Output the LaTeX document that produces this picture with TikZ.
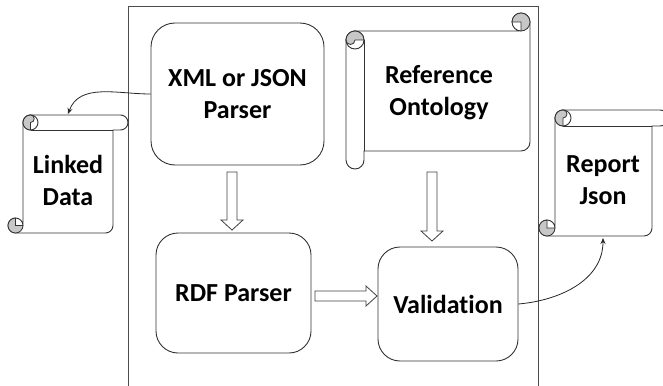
\documentclass[tikz,border=0pt]{standalone}
\usepackage{fontspec}
\setmainfont{Carlito}[Ligatures=NoCommon]
\usetikzlibrary{arrows.meta}
\tikzset{
  boxline/.style={draw=black!80, line width=0.9pt},
  procbox/.style={boxline, fill=white, rounded corners=24pt, align=center,
    font=\bfseries\fontsize{26}{32}\selectfont, inner sep=0pt},
  scrolltext/.style={align=center, font=\bfseries\fontsize{26}{32}\selectfont, inner sep=0pt},
  frameline/.style={draw=black!70, line width=0.9pt},
  blockarrow/.style={draw=black!75, line width=0.8pt, fill=white, line join=miter},
  conn/.style={draw=black!85, line width=0.8pt, -{Stealth[length=6pt,width=5pt]}},
  curlfill/.style={draw=black!80, line width=0.8pt, fill=black!22}
}
% vertical scroll: #1=L, #2=T, #3=R, #4=B, #5=c (roll diameter)
\newcommand\myvscroll[5]{%
  \pgfmathsetmacro\sh{#5/2}%
  \pgfmathsetmacro\sA{#1+#5}%
  \pgfmathsetmacro\sAh{#1+#5+#5/2}%
  \pgfmathsetmacro\sLh{#1+#5/2}%
  \pgfmathsetmacro\sRh{#3-#5/2}%
  \pgfmathsetmacro\sRc{#3-#5}%
  \pgfmathsetmacro\sTh{#2+#5/2}%
  \pgfmathsetmacro\sTc{#2+#5}%
  \pgfmathsetmacro\sBh{#4-#5/2}%
  \pgfmathsetmacro\sBc{#4-#5}%
  \pgfmathsetmacro\sq{#5/4}%
  \path[boxline, fill=white] (\sAh,#2) -- (\sRh,#2)
     arc[start angle=-90,end angle=90,radius=\sh] -- (\sRc,\sTc) -- (\sRc,\sBh)
     arc[start angle=0,end angle=90,radius=\sh] -- (\sLh,#4)
     arc[start angle=90,end angle=360,radius=\sh] -- (\sA,\sTh)
     arc[start angle=180,end angle=270,radius=\sh] -- cycle;
  \draw[boxline] (\sAh,\sTc) -- (\sRc,\sTc);
  \draw[boxline, fill=white] (\sAh,\sTh) circle[radius=\sh];
  \path[curlfill] (\sAh,\sTc) arc[start angle=90,end angle=270,radius=\sh]
     arc[start angle=-90,end angle=90,radius=\sq] -- cycle;
  \path[curlfill] (\sLh,\sBh) -- (\sA,\sBh) arc[start angle=0,end angle=270,radius=\sh] -- cycle;
}
\begin{document}
\begin{tikzpicture}[x=1pt,y=-1pt]
\useasboundingbox (0,0) rectangle (663,385);
\clip (0,0) rectangle (663,385);
% frame
\draw[frameline] (128,395) -- (128,6) -- (538,6) -- (538,395);

% scrolls
\myvscroll{8}{115}{128}{233}{15}
\begin{scope}[x={(0pt,-1pt)}, y={(1pt,0pt)}]
  \myvscroll{13}{346}{169}{530}{18}
\end{scope}
\myvscroll{539}{110}{668}{236}{16}

\node[scrolltext] (linked) at (68,180) {Linked\\Data};
\node[scrolltext] (refonto) at (439,93) {Reference\\Ontology};
\node[scrolltext] (report) at (603,180) {Report\\Json};

% process boxes
\node[procbox, minimum width=173pt, minimum height=142pt] (xml) at (237.5,94) {XML or JSON\\Parser};
\node[procbox, minimum width=155pt, minimum height=120pt, rounded corners=22pt] (rdf) at (233.5,293) {RDF Parser};
\node[procbox, minimum width=140pt, minimum height=114pt, rounded corners=22pt] (val) at (448,304) {Validation};

% hollow block arrows
\path[blockarrow] (227,172) -- (237,172) -- (237,220) -- (243,220) -- (232,230)
  -- (221,220) -- (227,220) -- cycle;
\path[blockarrow] (427,172) -- (437,172) -- (437,231) -- (443,231) -- (432,241)
  -- (421,231) -- (427,231) -- cycle;
\path[blockarrow] (315,291) -- (366,291) -- (366,286) -- (377,296) -- (366,306)
  -- (366,301) -- (315,301) -- cycle;

% connectors
\coordinate (ldtop) at (68,114);
\coordinate (rjbot) at (603,238);
\draw[conn] (xml.west) to[out=180,in=70] (ldtop);
\draw[conn] (val.east) to[out=5,in=270] (rjbot);
\end{tikzpicture}
\end{document}
